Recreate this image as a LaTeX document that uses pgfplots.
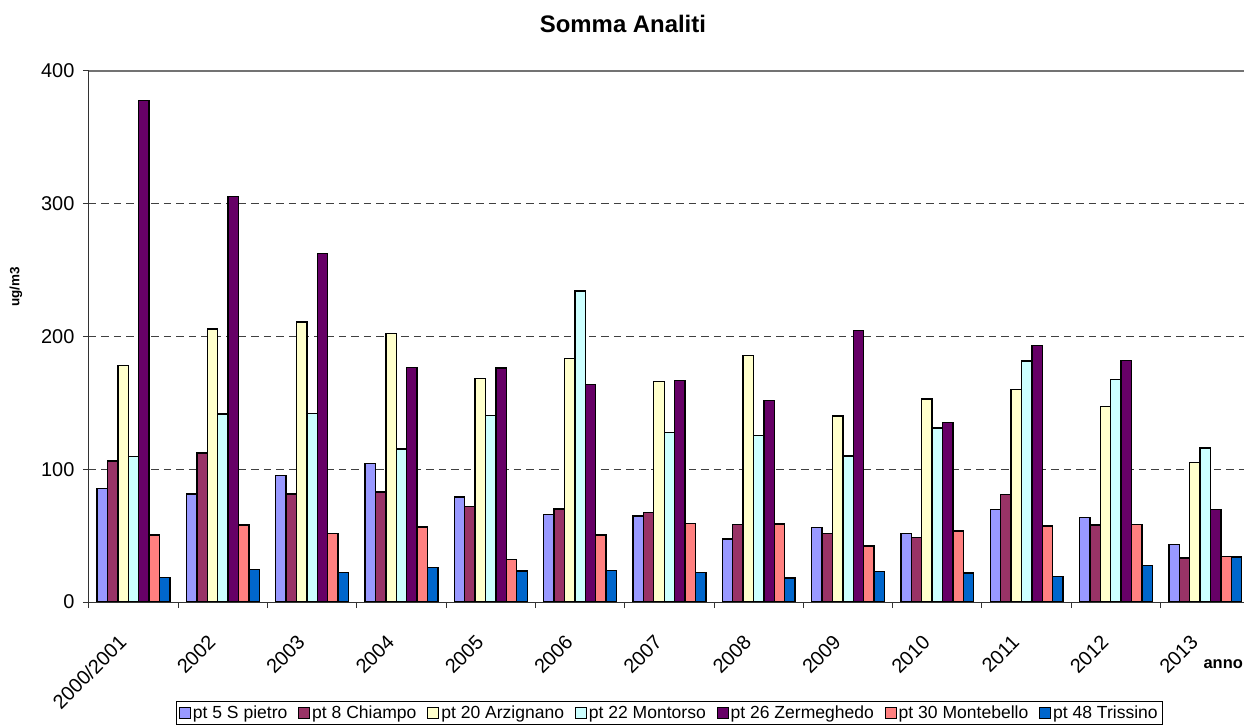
\documentclass[border=0pt]{standalone}
\usepackage{fontspec}
\setmainfont{Liberation Sans}
\usepackage{pgfplots}
\pgfplotsset{compat=1.18}
\usepackage{pgfplotstable}
\definecolor{c1}{HTML}{9999FF}
\definecolor{c2}{HTML}{993366}
\definecolor{c3}{HTML}{FFFFCC}
\definecolor{c4}{HTML}{CCFFFF}
\definecolor{c5}{HTML}{660066}
\definecolor{c6}{HTML}{FF8080}
\definecolor{c7}{HTML}{0066CC}
\pgfplotstableread{
x a b c d e f g
0 85.4 106.3 178.3 109.8 378.0 50.5 18.5
1 81.5 112.2 205.6 141.5 305.6 57.9 24.6
2 95.2 81.5 210.8 142.0 262.7 51.6 22.0
3 104.2 82.8 202.4 115.3 176.5 56.6 25.9
4 79.2 71.9 168.3 140.6 176.3 32.2 23.4
5 65.7 70.0 183.4 234.3 163.7 50.6 23.7
6 64.7 67.3 166.0 127.7 166.8 59.2 22.4
7 47.6 58.2 185.9 125.4 151.9 58.9 18.1
8 56.2 51.4 140.0 110.0 204.5 42.3 22.9
9 51.4 48.4 152.9 131.0 135.0 53.4 21.7
10 69.5 81.1 160.2 181.6 193.2 57.2 19.1
11 63.7 57.9 147.4 167.5 181.9 58.2 27.5
12 43.3 33.0 105.3 115.9 69.5 34.5 34.0
}\datatable
\begin{document}
\begin{tikzpicture}
\path[use as bounding box] (0,0) rectangle (1244bp,727bp);
\begin{axis}[
  at={(88.9bp,125bp)}, anchor=south west,
  scale only axis, width=1161bp, height=531bp,
  xmin=-0.5, xmax=12.5, ymin=0, ymax=400,
  ybar=0pt, bar width=0.1165,
  axis x line*=bottom, axis y line*=left,
  axis line style={-, black!80, line width=1bp},
  tick align=outside,
  xtick={0,...,12},
  xticklabels={2000/2001,2002,2003,2004,2005,2006,2007,2008,2009,2010,2011,2012,2013},
  major x tick style={draw=none},
  minor xtick={-0.5,0.5,...,12.5},
  minor tick length=6bp,
  minor x tick style={black!80, line width=1bp},
  xticklabel style={rotate=45, anchor=east, xshift=-26bp, yshift=-14bp, font=\fontsize{20}{20}\selectfont},
  ytick={0,100,200,300},
  extra y ticks={400},
  extra y tick style={grid=major, major grid style={solid, black!55, line width=1.2bp}},
  major tick length=6bp,
  major y tick style={black!80, line width=1bp},
  yticklabel style={xshift=-5bp, font=\fontsize{20}{20}\selectfont},
  /pgf/number format/assume math mode=true,
  ymajorgrids,
  major grid style={dash pattern=on 7.5bp off 5bp, black!75, line width=1bp},
  title={Somma Analiti},
  title style={at={(0.46,1.0772)}, anchor=center, font=\bfseries\fontsize{24}{24}\selectfont},
  ylabel={ug/m3},
  ylabel style={at={(axis description cs:-0.0628,0.593)}, anchor=center, font=\bfseries\fontsize{13.5}{13.5}\selectfont},
  xlabel={anno},
  xlabel style={at={(axis description cs:0.977,-0.117)}, anchor=center, font=\bfseries\fontsize{16.5}{16.5}\selectfont},
  legend columns=7,
  legend style={at={(0.5,-0.1864)}, anchor=north, draw=black, line width=0.8bp,
    font=\fontsize{17.6}{20}\selectfont, inner xsep=3bp, inner ysep=2.5bp,
    /tikz/every even column/.append style={column sep=9bp}},
  legend image code/.code={\draw[#1, line width=0.8bp] (0bp,-5bp) rectangle (11bp,6bp);},
  every axis plot/.append style={draw=black, line width=1.4bp},
]
\addplot[fill=c1] table[x=x,y=a]{\datatable};
\addplot[fill=c2] table[x=x,y=b]{\datatable};
\addplot[fill=c3] table[x=x,y=c]{\datatable};
\addplot[fill=c4] table[x=x,y=d]{\datatable};
\addplot[fill=c5] table[x=x,y=e]{\datatable};
\addplot[fill=c6] table[x=x,y=f]{\datatable};
\addplot[fill=c7] table[x=x,y=g]{\datatable};
\legend{pt 5 S pietro,pt 8 Chiampo,pt 20 Arzignano,pt 22 Montorso,pt 26 Zermeghedo,pt 30 Montebello,pt 48 Trissino}
\end{axis}
\end{tikzpicture}
\end{document}
